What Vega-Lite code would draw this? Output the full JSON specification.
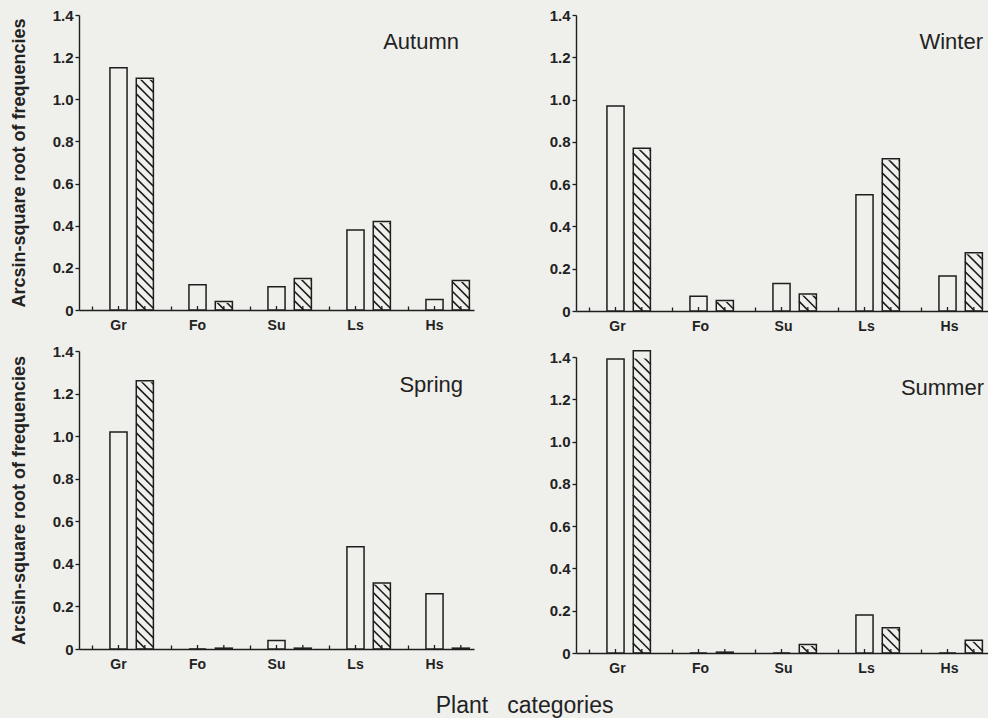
{
  "$schema": "https://vega.github.io/schema/vega-lite/v6.json",
  "background": "#efefeb",
  "padding": {"left": 10, "top": 8, "right": 0, "bottom": 0},
  "datasets": {
    "bars": [
      {"season": "Autumn", "category": "Gr", "type": "open", "value": 1.15},
      {"season": "Autumn", "category": "Gr", "type": "hatched", "value": 1.10},
      {"season": "Autumn", "category": "Fo", "type": "open", "value": 0.12},
      {"season": "Autumn", "category": "Fo", "type": "hatched", "value": 0.04},
      {"season": "Autumn", "category": "Su", "type": "open", "value": 0.11},
      {"season": "Autumn", "category": "Su", "type": "hatched", "value": 0.15},
      {"season": "Autumn", "category": "Ls", "type": "open", "value": 0.38},
      {"season": "Autumn", "category": "Ls", "type": "hatched", "value": 0.42},
      {"season": "Autumn", "category": "Hs", "type": "open", "value": 0.05},
      {"season": "Autumn", "category": "Hs", "type": "hatched", "value": 0.14},
      {"season": "Winter", "category": "Gr", "type": "open", "value": 0.97},
      {"season": "Winter", "category": "Gr", "type": "hatched", "value": 0.77},
      {"season": "Winter", "category": "Fo", "type": "open", "value": 0.07},
      {"season": "Winter", "category": "Fo", "type": "hatched", "value": 0.05},
      {"season": "Winter", "category": "Su", "type": "open", "value": 0.13},
      {"season": "Winter", "category": "Su", "type": "hatched", "value": 0.08},
      {"season": "Winter", "category": "Ls", "type": "open", "value": 0.55},
      {"season": "Winter", "category": "Ls", "type": "hatched", "value": 0.72},
      {"season": "Winter", "category": "Hs", "type": "open", "value": 0.165},
      {"season": "Winter", "category": "Hs", "type": "hatched", "value": 0.275},
      {"season": "Spring", "category": "Gr", "type": "open", "value": 1.02},
      {"season": "Spring", "category": "Gr", "type": "hatched", "value": 1.26},
      {"season": "Spring", "category": "Fo", "type": "open", "value": 0},
      {"season": "Spring", "category": "Fo", "type": "hatched", "value": 0.004},
      {"season": "Spring", "category": "Su", "type": "open", "value": 0.04},
      {"season": "Spring", "category": "Su", "type": "hatched", "value": 0.004},
      {"season": "Spring", "category": "Ls", "type": "open", "value": 0.48},
      {"season": "Spring", "category": "Ls", "type": "hatched", "value": 0.31},
      {"season": "Spring", "category": "Hs", "type": "open", "value": 0.26},
      {"season": "Spring", "category": "Hs", "type": "hatched", "value": 0.004},
      {"season": "Summer", "category": "Gr", "type": "open", "value": 1.39},
      {"season": "Summer", "category": "Gr", "type": "hatched", "value": 1.43},
      {"season": "Summer", "category": "Fo", "type": "open", "value": 0},
      {"season": "Summer", "category": "Fo", "type": "hatched", "value": 0.004},
      {"season": "Summer", "category": "Su", "type": "open", "value": 0},
      {"season": "Summer", "category": "Su", "type": "hatched", "value": 0.04},
      {"season": "Summer", "category": "Ls", "type": "open", "value": 0.18},
      {"season": "Summer", "category": "Ls", "type": "hatched", "value": 0.12},
      {"season": "Summer", "category": "Hs", "type": "open", "value": 0},
      {"season": "Summer", "category": "Hs", "type": "hatched", "value": 0.06}
    ]
  },
  "data": {"name": "bars"},
  "title": {"text": "Plant\u00a0\u00a0\u00a0categories", "orient": "bottom", "anchor": "middle", "fontSize": 23, "fontWeight": "normal", "offset": 20, "dx": 24, "color": "#222"},
  "spacing": 75,
  "hconcat": [
    {
      "spacing": 41,
      "bounds": "flush",
      "vconcat": [
        {
          "width": 395, "height": 295,
          "title": {"text": "Autumn", "anchor": "end", "frame": "group", "offset": -46, "dx": -15},
          "transform": [{"filter": "datum.season === 'Autumn'"}],
          "encoding": {
            "x": {"field": "category", "type": "nominal", "sort": ["Gr", "Fo", "Su", "Ls", "Hs"], "scale": {"paddingInner": 0, "paddingOuter": 0}, "axis": {"title": null, "labelDx": 26.33}},
            "xOffset": {"field": "type", "type": "nominal", "scale": {"domain": ["gap", "open", "hatched"], "paddingInner": 0.35, "paddingOuter": 0.175}},
            "y": {"field": "value", "type": "quantitative", "scale": {"domain": [0, 1.4], "nice": false}, "axis": {"title": "Arcsin-square root of frequencies", "values": [0, 0.2, 0.4, 0.6, 0.8, 1.0, 1.2, 1.4], "labelExpr": "datum.value == 0 ? '0' : format(datum.value, '.1f')"}}
          },
          "layer": [
            {"transform": [{"filter": "datum.type === 'hatched'"}], "mark": {"type": "point", "shape": "M-1,-1.1L0.1,0M-1,-2.2L1,-0.2M-1,-3.3L1,-1.3M-1,-4.4L1,-2.4M-1,-5.5L1,-3.5M-1,-6.6L1,-4.6M-1,-7.7L1,-5.7M-1,-8.8L1,-6.8M-1,-9.9L1,-7.9M-1,-11L1,-9M-1,-12.1L1,-10.1M-1,-13.2L1,-11.2M-1,-14.3L1,-12.3M-1,-15.4L1,-13.4M-1,-16.5L1,-14.5M-1,-17.6L1,-15.6M-1,-18.7L1,-16.7M-1,-19.8L1,-17.8M-1,-20.9L1,-18.9M-1,-22L1,-20M-1,-23.1L1,-21.1M-1,-24.2L1,-22.2M-1,-25.3L1,-23.3M-1,-26.4L1,-24.4M-1,-27.5L1,-25.5M-1,-28.6L1,-26.6M-1,-29.7L1,-27.7M-1,-30.8L1,-28.8M-1,-31.9L1,-29.9M-1,-33L1,-31M-1,-34.1L1,-32.1M-1,-35.2L1,-33.2M-1,-36.3L1,-34.3M-1,-37.4L1,-35.4M-1,-38.5L1,-36.5", "size": 292, "filled": false, "stroke": "#1e1e1e", "strokeWidth": 1.6, "opacity": 1, "clip": true}, "encoding": {"y": {"datum": 0, "type": "quantitative"}}},
            {"transform": [{"filter": "datum.type === 'hatched'"}], "mark": {"type": "bar", "fill": "#efefeb", "stroke": "#efefeb", "strokeWidth": 3, "clip": true}, "encoding": {"y2": {"datum": 1.4}}},
            {"transform": [{"filter": "datum.type === 'open'"}], "mark": {"type": "bar", "fill": "#efefeb", "stroke": "#1e1e1e", "strokeWidth": 1.5}},
            {"transform": [{"filter": "datum.type === 'hatched'"}], "mark": {"type": "bar", "fill": "transparent", "stroke": "#1e1e1e", "strokeWidth": 1.5}},
            {"mark": {"type": "rule", "stroke": "#1e1e1e", "strokeWidth": 1.3}, "encoding": {"y": {"datum": 0, "type": "quantitative"}, "y2": {"datum": 0.019}}}
          ]
        },
        {
          "width": 395, "height": 298,
          "title": {"text": "Spring", "anchor": "end", "frame": "group", "offset": -53, "dx": -11},
          "transform": [{"filter": "datum.season === 'Spring'"}],
          "encoding": {
            "x": {"field": "category", "type": "nominal", "sort": ["Gr", "Fo", "Su", "Ls", "Hs"], "scale": {"paddingInner": 0, "paddingOuter": 0}, "axis": {"title": null, "labelDx": 26.33}},
            "xOffset": {"field": "type", "type": "nominal", "scale": {"domain": ["gap", "open", "hatched"], "paddingInner": 0.35, "paddingOuter": 0.175}},
            "y": {"field": "value", "type": "quantitative", "scale": {"domain": [0, 1.4], "nice": false}, "axis": {"title": "Arcsin-square root of frequencies", "values": [0, 0.2, 0.4, 0.6, 0.8, 1.0, 1.2, 1.4], "labelExpr": "datum.value == 0 ? '0' : format(datum.value, '.1f')"}}
          },
          "layer": [
            {"transform": [{"filter": "datum.type === 'hatched'"}], "mark": {"type": "point", "shape": "M-1,-1.1L0.1,0M-1,-2.2L1,-0.2M-1,-3.3L1,-1.3M-1,-4.4L1,-2.4M-1,-5.5L1,-3.5M-1,-6.6L1,-4.6M-1,-7.7L1,-5.7M-1,-8.8L1,-6.8M-1,-9.9L1,-7.9M-1,-11L1,-9M-1,-12.1L1,-10.1M-1,-13.2L1,-11.2M-1,-14.3L1,-12.3M-1,-15.4L1,-13.4M-1,-16.5L1,-14.5M-1,-17.6L1,-15.6M-1,-18.7L1,-16.7M-1,-19.8L1,-17.8M-1,-20.9L1,-18.9M-1,-22L1,-20M-1,-23.1L1,-21.1M-1,-24.2L1,-22.2M-1,-25.3L1,-23.3M-1,-26.4L1,-24.4M-1,-27.5L1,-25.5M-1,-28.6L1,-26.6M-1,-29.7L1,-27.7M-1,-30.8L1,-28.8M-1,-31.9L1,-29.9M-1,-33L1,-31M-1,-34.1L1,-32.1M-1,-35.2L1,-33.2M-1,-36.3L1,-34.3M-1,-37.4L1,-35.4M-1,-38.5L1,-36.5", "size": 292, "filled": false, "stroke": "#1e1e1e", "strokeWidth": 1.6, "opacity": 1, "clip": true}, "encoding": {"y": {"datum": 0, "type": "quantitative"}}},
            {"transform": [{"filter": "datum.type === 'hatched'"}], "mark": {"type": "bar", "fill": "#efefeb", "stroke": "#efefeb", "strokeWidth": 3, "clip": true}, "encoding": {"y2": {"datum": 1.4}}},
            {"transform": [{"filter": "datum.type === 'open'"}], "mark": {"type": "bar", "fill": "#efefeb", "stroke": "#1e1e1e", "strokeWidth": 1.5}},
            {"transform": [{"filter": "datum.type === 'hatched'"}], "mark": {"type": "bar", "fill": "transparent", "stroke": "#1e1e1e", "strokeWidth": 1.5}},
            {"mark": {"type": "rule", "stroke": "#1e1e1e", "strokeWidth": 1.3}, "encoding": {"y": {"datum": 0, "type": "quantitative"}, "y2": {"datum": 0.019}}}
          ]
        }
      ]
    },
    {
      "spacing": 46,
      "bounds": "flush",
      "vconcat": [
        {
          "width": 415, "height": 296,
          "title": {"text": "Winter", "anchor": "end", "frame": "group", "offset": -46, "dx": -8},
          "transform": [{"filter": "datum.season === 'Winter'"}],
          "encoding": {
            "x": {"field": "category", "type": "nominal", "sort": ["Gr", "Fo", "Su", "Ls", "Hs"], "scale": {"paddingInner": 0, "paddingOuter": 0}, "axis": {"title": null, "labelDx": 27.67}},
            "xOffset": {"field": "type", "type": "nominal", "scale": {"domain": ["gap", "open", "hatched"], "paddingInner": 0.35, "paddingOuter": 0.175}},
            "y": {"field": "value", "type": "quantitative", "scale": {"domain": [0, 1.4], "nice": false}, "axis": {"title": null, "values": [0, 0.2, 0.4, 0.6, 0.8, 1.0, 1.2, 1.4], "labelExpr": "datum.value == 0 ? '0' : format(datum.value, '.1f')"}}
          },
          "layer": [
            {"transform": [{"filter": "datum.type === 'hatched'"}], "mark": {"type": "point", "shape": "M-1,-1.1L0.1,0M-1,-2.2L1,-0.2M-1,-3.3L1,-1.3M-1,-4.4L1,-2.4M-1,-5.5L1,-3.5M-1,-6.6L1,-4.6M-1,-7.7L1,-5.7M-1,-8.8L1,-6.8M-1,-9.9L1,-7.9M-1,-11L1,-9M-1,-12.1L1,-10.1M-1,-13.2L1,-11.2M-1,-14.3L1,-12.3M-1,-15.4L1,-13.4M-1,-16.5L1,-14.5M-1,-17.6L1,-15.6M-1,-18.7L1,-16.7M-1,-19.8L1,-17.8M-1,-20.9L1,-18.9M-1,-22L1,-20M-1,-23.1L1,-21.1M-1,-24.2L1,-22.2M-1,-25.3L1,-23.3M-1,-26.4L1,-24.4M-1,-27.5L1,-25.5M-1,-28.6L1,-26.6M-1,-29.7L1,-27.7M-1,-30.8L1,-28.8M-1,-31.9L1,-29.9M-1,-33L1,-31M-1,-34.1L1,-32.1M-1,-35.2L1,-33.2M-1,-36.3L1,-34.3M-1,-37.4L1,-35.4M-1,-38.5L1,-36.5", "size": 323, "filled": false, "stroke": "#1e1e1e", "strokeWidth": 1.6, "opacity": 1, "clip": true}, "encoding": {"y": {"datum": 0, "type": "quantitative"}}},
            {"transform": [{"filter": "datum.type === 'hatched'"}], "mark": {"type": "bar", "fill": "#efefeb", "stroke": "#efefeb", "strokeWidth": 3, "clip": true}, "encoding": {"y2": {"datum": 1.4}}},
            {"transform": [{"filter": "datum.type === 'open'"}], "mark": {"type": "bar", "fill": "#efefeb", "stroke": "#1e1e1e", "strokeWidth": 1.5}},
            {"transform": [{"filter": "datum.type === 'hatched'"}], "mark": {"type": "bar", "fill": "transparent", "stroke": "#1e1e1e", "strokeWidth": 1.5}},
            {"mark": {"type": "rule", "stroke": "#1e1e1e", "strokeWidth": 1.3}, "encoding": {"y": {"datum": 0, "type": "quantitative"}, "y2": {"datum": 0.019}}}
          ]
        },
        {
          "width": 415, "height": 296,
          "title": {"text": "Summer", "anchor": "end", "frame": "group", "offset": -50, "dx": -7},
          "transform": [{"filter": "datum.season === 'Summer'"}],
          "encoding": {
            "x": {"field": "category", "type": "nominal", "sort": ["Gr", "Fo", "Su", "Ls", "Hs"], "scale": {"paddingInner": 0, "paddingOuter": 0}, "axis": {"title": null, "labelDx": 27.67}},
            "xOffset": {"field": "type", "type": "nominal", "scale": {"domain": ["gap", "open", "hatched"], "paddingInner": 0.35, "paddingOuter": 0.175}},
            "y": {"field": "value", "type": "quantitative", "scale": {"domain": [0, 1.4], "nice": false}, "axis": {"title": null, "values": [0, 0.2, 0.4, 0.6, 0.8, 1.0, 1.2, 1.4], "labelExpr": "datum.value == 0 ? '0' : format(datum.value, '.1f')"}}
          },
          "layer": [
            {"transform": [{"filter": "datum.type === 'hatched'"}], "mark": {"type": "point", "shape": "M-1,-1.1L0.1,0M-1,-2.2L1,-0.2M-1,-3.3L1,-1.3M-1,-4.4L1,-2.4M-1,-5.5L1,-3.5M-1,-6.6L1,-4.6M-1,-7.7L1,-5.7M-1,-8.8L1,-6.8M-1,-9.9L1,-7.9M-1,-11L1,-9M-1,-12.1L1,-10.1M-1,-13.2L1,-11.2M-1,-14.3L1,-12.3M-1,-15.4L1,-13.4M-1,-16.5L1,-14.5M-1,-17.6L1,-15.6M-1,-18.7L1,-16.7M-1,-19.8L1,-17.8M-1,-20.9L1,-18.9M-1,-22L1,-20M-1,-23.1L1,-21.1M-1,-24.2L1,-22.2M-1,-25.3L1,-23.3M-1,-26.4L1,-24.4M-1,-27.5L1,-25.5M-1,-28.6L1,-26.6M-1,-29.7L1,-27.7M-1,-30.8L1,-28.8M-1,-31.9L1,-29.9M-1,-33L1,-31M-1,-34.1L1,-32.1M-1,-35.2L1,-33.2M-1,-36.3L1,-34.3M-1,-37.4L1,-35.4M-1,-38.5L1,-36.5", "size": 323, "filled": false, "stroke": "#1e1e1e", "strokeWidth": 1.6, "opacity": 1, "clip": true}, "encoding": {"y": {"datum": 0, "type": "quantitative"}}},
            {"transform": [{"filter": "datum.type === 'hatched'"}], "mark": {"type": "bar", "fill": "#efefeb", "stroke": "#efefeb", "strokeWidth": 3, "clip": true}, "encoding": {"y2": {"datum": 1.4}}},
            {"transform": [{"filter": "datum.type === 'open'"}], "mark": {"type": "bar", "fill": "#efefeb", "stroke": "#1e1e1e", "strokeWidth": 1.5}},
            {"transform": [{"filter": "datum.type === 'hatched'"}], "mark": {"type": "bar", "fill": "transparent", "stroke": "#1e1e1e", "strokeWidth": 1.5}},
            {"mark": {"type": "rule", "stroke": "#1e1e1e", "strokeWidth": 1.3}, "encoding": {"y": {"datum": 0, "type": "quantitative"}, "y2": {"datum": 0.019}}}
          ]
        }
      ]
    }
  ],
  "config": {
    "font": "Liberation Sans",
    "view": {"stroke": null},
    "axis": {"domainColor": "#1e1e1e", "tickColor": "#1e1e1e", "labelColor": "#222", "titleColor": "#222", "labelFont": "Liberation Sans", "titleFont": "Liberation Sans", "labelFontWeight": "bold", "titleFontWeight": "bold", "grid": false, "domainWidth": 1.4, "tickWidth": 1.3},
    "axisX": {"labelAngle": 0, "labelFontSize": 14, "tickSize": -4, "labelPadding": 12, "bandPosition": 0.1667},
    "axisY": {"labelFontSize": 15, "tickSize": 4, "labelPadding": 2, "titleFontSize": 18, "titlePadding": 24},
    "title": {"font": "Liberation Sans", "fontSize": 22, "fontWeight": "normal", "color": "#222"}
  }
}
